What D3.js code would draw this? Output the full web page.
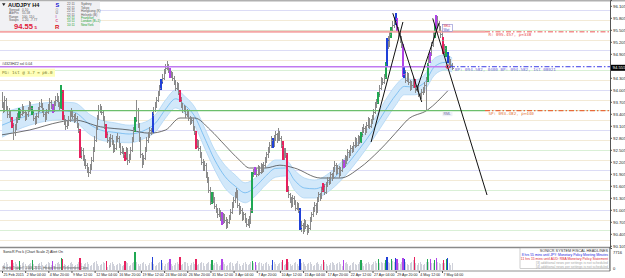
<!DOCTYPE html>
<html><head><meta charset="utf-8">
<script src="https://cdn.jsdelivr.net/npm/d3@7"></script>
<style>body{margin:0;background:#fff;overflow:hidden}svg{display:block;font-family:"Liberation Sans",Arial,sans-serif}</style>
</head><body><svg id="c" width="625" height="278"></svg>
<script>
// ---------- DATA ----------
const highs=[93.95,93.70,93.85,93.80,93.60,93.55,93.50,93.32,93.18,93.15,93.32,93.42,
93.55,93.52,93.65,93.60,93.50,93.45,93.58,93.72,93.70,93.60,93.48,93.35,
93.42,93.58,93.70,93.78,93.68,93.55,93.45,93.52,93.65,93.80,93.75,93.65,
93.72,93.85,93.92,93.85,93.70,94.12,94.00,93.38,93.28,93.25,93.35,93.48,
93.55,93.50,93.40,93.42,93.35,93.18,93.02,92.58,92.55,92.38,92.28,92.18,
92.08,92.15,92.32,92.58,92.85,93.12,93.38,93.62,93.65,93.60,93.48,93.35,
93.15,92.95,92.82,92.90,92.88,92.75,92.65,92.85,92.92,92.85,92.68,92.60,
92.55,92.45,92.58,92.55,92.40,92.58,92.82,93.08,93.32,93.75,93.55,93.18,
92.82,92.42,92.38,92.58,92.82,92.95,93.08,93.05,93.45,93.58,93.70,93.82,
93.98,94.12,94.28,94.40,94.52,94.65,94.72,94.65,94.55,94.48,94.45,94.35,
94.25,94.20,94.18,94.00,93.82,93.68,93.62,93.60,93.52,93.50,93.35,93.32,
93.30,93.10,92.98,92.78,92.75,92.60,92.45,92.28,92.22,92.18,91.95,91.82,
91.58,91.45,91.45,91.32,91.15,91.05,91.05,91.00,90.95,90.92,90.90,90.82,
90.78,90.88,91.02,91.20,91.32,91.45,91.55,91.50,91.18,91.10,91.05,90.95,
90.92,90.80,90.78,90.85,91.05,91.95,92.02,92.08,92.05,92.12,92.10,92.18,
92.15,92.20,92.32,92.45,92.58,92.70,92.85,92.80,92.88,92.98,92.92,93.05,
92.98,92.85,92.72,92.55,92.55,92.42,91.60,91.42,91.32,91.38,91.35,91.25,
91.20,91.18,91.05,90.72,90.68,90.78,90.75,90.65,90.62,90.82,90.95,91.08,
91.20,91.18,91.32,91.45,91.42,91.58,91.68,91.65,91.70,91.82,91.82,91.95,
91.92,92.08,92.22,92.18,92.12,92.10,92.08,92.28,92.25,92.38,92.35,92.52,
92.50,92.62,92.60,92.70,92.82,92.80,92.88,92.85,92.95,93.08,93.15,93.10,
93.20,93.32,93.30,93.28,93.38,93.52,93.70,93.78,93.95,94.12,94.32,94.30,
94.40,94.70,95.30,95.35,95.45,95.58,95.72,95.82,95.92,95.80,95.58,95.48,
95.35,95.15,94.58,94.50,94.45,94.42,94.25,94.22,94.32,94.28,94.15,94.12,
94.08,93.92,94.02,94.08,94.20,94.32,94.68,94.85,94.95,95.20,95.45,95.65,
95.88,95.85,95.72,95.60,95.48,95.32,95.15,95.10,94.95,94.85,94.78,94.68];
const lows=[93.55,93.42,93.45,93.48,93.30,93.30,93.20,93.05,92.75,92.85,93.00,93.18,
93.25,93.30,93.35,93.40,93.22,93.25,93.32,93.45,93.48,93.38,93.22,93.12,
93.15,93.30,93.45,93.55,93.42,93.32,93.20,93.25,93.40,93.50,93.52,93.42,
93.45,93.60,93.70,93.58,93.48,93.52,93.25,93.12,93.00,93.02,93.10,93.20,
93.32,93.28,93.18,93.20,93.05,92.92,92.30,92.28,92.22,92.10,92.02,91.92,
91.82,91.90,92.00,92.20,92.45,92.70,93.00,93.25,93.42,93.38,93.22,93.02,
92.80,92.68,92.55,92.58,92.62,92.42,92.45,92.50,92.70,92.55,92.38,92.40,
92.30,92.22,92.25,92.12,92.18,92.25,92.45,92.70,92.95,93.20,93.05,92.70,
92.30,92.05,92.12,92.25,92.45,92.68,92.80,92.88,92.92,93.35,93.45,93.55,
93.70,93.85,94.00,94.15,94.25,94.40,94.50,94.42,94.30,94.30,94.22,94.12,
93.98,94.00,93.88,93.70,93.55,93.42,93.45,93.30,93.32,93.22,93.12,93.15,
92.98,92.88,92.52,92.55,92.48,92.30,92.12,91.98,91.98,91.80,91.68,91.42,
91.12,91.15,91.18,91.02,90.92,90.80,90.82,90.72,90.62,90.65,90.68,90.52,
90.55,90.65,90.75,90.90,91.05,91.18,91.30,91.05,90.88,90.90,90.72,90.75,
90.68,90.58,90.60,90.55,90.65,90.92,91.82,91.88,91.82,91.85,91.88,91.90,
91.92,91.95,92.05,92.18,92.30,92.42,92.55,92.55,92.58,92.72,92.68,92.72,
92.72,92.55,92.25,92.25,92.30,91.45,91.30,91.18,91.05,91.08,91.12,90.98,
91.00,90.92,90.50,90.45,90.40,90.45,90.52,90.38,90.42,90.50,90.70,90.82,
90.95,90.88,90.92,91.20,91.22,91.28,91.45,91.38,91.40,91.58,91.62,91.65,
91.72,91.78,91.95,91.88,91.90,91.80,91.85,91.95,92.05,92.08,92.15,92.22,
92.30,92.35,92.42,92.45,92.55,92.58,92.60,92.65,92.68,92.82,92.92,92.88,
92.92,93.05,93.02,93.05,93.15,93.25,93.40,93.55,93.65,93.82,94.00,94.12,
94.15,94.28,94.60,95.02,95.08,95.30,95.45,95.55,95.62,95.45,95.30,95.18,
95.05,94.32,94.30,94.18,94.20,94.12,93.98,94.00,94.05,94.05,93.92,93.95,
93.82,93.75,93.78,93.88,93.92,93.50,94.20,94.55,94.68,94.85,95.08,95.30,
95.50,95.55,95.42,95.30,95.18,94.90,94.88,94.82,94.68,94.62,94.55,94.50];
const closes=[93.62,93.50,93.75,93.55,93.38,93.45,93.25,93.12,92.95,93.05,93.25,93.30,
93.45,93.38,93.55,93.45,93.30,93.38,93.50,93.62,93.55,93.45,93.30,93.20,
93.35,93.50,93.60,93.65,93.50,93.40,93.30,93.45,93.55,93.70,93.60,93.50,
93.65,93.75,93.80,93.65,93.55,93.95,93.30,93.20,93.10,93.15,93.25,93.38,
93.45,93.35,93.25,93.30,93.12,93.00,92.35,92.50,92.30,92.20,92.12,92.00,
91.95,92.05,92.25,92.50,92.75,93.05,93.30,93.50,93.55,93.45,93.30,93.10,
92.88,92.75,92.62,92.80,92.70,92.50,92.55,92.75,92.80,92.62,92.45,92.50,
92.38,92.30,92.50,92.25,92.30,92.50,92.75,93.00,93.25,93.50,93.12,92.75,
92.38,92.20,92.30,92.50,92.75,92.88,93.00,92.95,93.40,93.50,93.62,93.75,
93.90,94.05,94.20,94.30,94.45,94.55,94.60,94.50,94.35,94.40,94.30,94.20,
94.05,94.12,93.95,93.75,93.62,93.50,93.55,93.38,93.45,93.30,93.20,93.25,
93.05,92.95,92.58,92.70,92.55,92.38,92.20,92.05,92.12,91.88,91.75,91.50,
91.20,91.40,91.25,91.10,91.00,90.88,90.95,90.80,90.70,90.85,90.75,90.62,
90.70,90.80,90.95,91.12,91.25,91.38,91.45,91.12,90.95,91.00,90.80,90.88,
90.75,90.65,90.70,90.75,90.98,91.92,91.95,92.00,91.90,92.05,91.95,92.10,
92.00,92.12,92.25,92.38,92.50,92.62,92.75,92.62,92.80,92.88,92.75,92.95,
92.80,92.62,92.30,92.50,92.38,91.50,91.38,91.25,91.12,91.30,91.20,91.05,
91.12,91.00,90.55,90.62,90.50,90.70,90.60,90.45,90.55,90.75,90.88,91.00,
91.12,90.95,91.25,91.38,91.30,91.50,91.60,91.45,91.62,91.75,91.70,91.88,
91.80,92.00,92.12,91.95,92.05,91.88,92.00,92.20,92.12,92.30,92.25,92.45,
92.38,92.55,92.50,92.62,92.75,92.62,92.80,92.70,92.88,93.00,93.05,92.95,
93.12,93.25,93.10,93.20,93.30,93.45,93.62,93.70,93.88,94.05,94.25,94.20,
94.32,94.65,95.25,95.12,95.38,95.50,95.62,95.70,95.75,95.50,95.38,95.25,
95.12,94.38,94.45,94.25,94.38,94.20,94.05,94.12,94.25,94.10,94.00,94.05,
93.88,93.80,93.95,94.00,94.12,94.25,94.62,94.75,94.90,95.12,95.38,95.55,
95.75,95.62,95.50,95.38,95.25,94.95,95.05,94.88,94.75,94.70,94.62,94.55];
const volumes=[1500,2100,2800,3200,2500,1400,1700,4200,2900,3300,2600,1600,
3800,2200,2700,3400,2300,1300,1900,2500,3000,4000,2400,1500,
1600,2300,2900,3100,2200,1200,1800,2600,3300,2900,2100,3600,
1700,2400,3000,3500,2500,5200,4800,2600,2000,1500,2200,2800,
3200,2400,1400,1800,2500,3100,5000,2700,1600,2300,2900,3400,
2600,1500,2000,2800,3300,3600,2400,1400,1900,2600,3100,2700,
3800,1300,2100,2700,3200,2500,1500,1800,2600,3000,2300,1400,
2000,3900,3300,2800,1600,2200,2900,3400,7900,3100,2500,1700,
2300,3000,3500,2600,1500,2100,2800,3300,5500,2400,1600,2200,
2900,3400,4400,2700,1700,2300,3000,3300,4700,2500,1500,2100,
2700,3200,2600,5600,1800,2400,3100,3500,2800,1600,2200,2900,
3300,2500,4500,1900,2600,3000,3400,2700,1500,2300,2800,3200,
2600,4000,2000,2700,3100,2400,1400,2100,4600,3300,2600,1700,
2200,2900,3500,2800,1600,2300,3000,3600,2500,1500,2000,2700,
3200,2600,1800,2500,3300,3800,2900,3200,2200,2800,3400,2700,
1600,2300,2900,3200,2400,1500,2100,4100,3300,2600,1700,2400,
3000,3400,4200,1800,2500,4500,3100,2400,1500,2200,2900,3300,
2600,1700,4800,2800,3200,2500,1600,2300,3000,3500,2400,1500,
2100,2700,3200,2600,1700,2300,4100,3400,2500,1600,2200,2900,
3300,2700,1800,2400,3000,3500,2600,1700,4300,2800,3300,2500,
1600,2200,2900,3400,2500,1800,2400,3100,4400,2900,1700,2300,
2800,3200,2600,1800,2500,3200,3600,2700,4600,2900,3500,3000,
2800,4200,5500,3400,3000,4800,3600,3200,5100,4600,2900,2500,
3300,5000,4700,3100,2600,2200,2900,3300,4100,5300,2800,2000,
2700,3200,2600,2000,2600,3100,4800,3400,4500,3000,2700,4300,
4900,3300,2800,2300,2900,4400,3000,4600,5200,2700,2200,3000];
const redBars=[7,42,54,72,85,123,134,194,197,222,285,305];
const greenBars=[12,21,41,92,145,173,248,260,265,269,294,299,307];
const blueBars=[104,110,187,206,266,272,278,308];
const purpleBars=[35,116,152,175,236,273,277,296,300];
// SonicR dragon band (index, price)
const dragonIdx=[0,19,40,50,61,68,78,88,99,106,113,120,127,133,140,147,154,161,168,175,182,189,196,202,209,216,227,237,247,256,265,272,278,285,292,299,306,311];
const dragonHigh=[93.42,93.62,93.70,93.68,93.38,93.25,93.18,93.12,93.20,93.38,93.75,94.00,93.82,93.58,93.05,92.50,92.12,91.88,91.68,91.80,92.05,92.25,92.25,92.00,91.80,91.75,91.95,92.30,92.75,93.20,93.75,94.12,94.30,94.25,94.38,94.80,94.88,94.80];
const dragonMid=[93.12,93.37,93.48,93.44,93.13,93.00,92.94,92.90,93.00,93.17,93.52,93.78,93.60,93.35,92.80,92.25,91.84,91.60,91.43,91.58,91.84,92.04,92.05,91.75,91.55,91.53,91.73,92.08,92.53,92.98,93.50,93.87,94.09,94.07,94.19,94.59,94.69,94.63];
const dragonLow=[92.82,93.12,93.25,93.20,92.88,92.75,92.70,92.68,92.80,92.95,93.30,93.55,93.38,93.12,92.55,92.00,91.55,91.32,91.18,91.35,91.62,91.82,91.85,91.50,91.30,91.30,91.50,91.85,92.30,92.75,93.25,93.62,93.88,93.88,94.00,94.38,94.50,94.45];
// slow moving average (index, price)
const slowIdx=[0,19,40,50,68,88,102,113,123,133,144,154,164,171,182,192,202,220,234,247,261,275,280,294,308];
const slowVal=[92.88,93.00,93.20,93.25,93.08,93.00,92.92,93.00,93.30,93.30,93.00,92.62,92.25,92.05,92.05,92.12,92.05,91.80,91.80,92.05,92.50,93.05,93.25,93.50,93.98];
const resistance=95.457, pivotBP=94.582, support=93.482, lastPrice="94.555";
const trendLines=[[255,92.70,277,95.70],[270,95.92,290,93.70],[286.5,94.00,302,95.68],[297.6,95.79,335.1,91.375]];
const wholeLevels=[91,92,93,94,95,96];
const halfLevels=[90.5,91.5,92.5,93.5,94.5,95.5];
const quarterLevels=[90.25,90.75,91.25,91.75,92.25,92.75,93.25,93.75,94.25,94.75,95.25,95.75];
const priceTicks=[96.105,95.805,95.505,95.205,94.905,94.605,94.305,94.005,93.705,93.405,93.105,92.805,92.505,92.205,91.905,91.605,91.305,91.005,90.705,90.405,90.105];
const dateIdx=[0,16,32,48,64,80,96,112,128,144,160,176,192,208,224,240,256,272,288,304];
const dateLabels=["25 Feb 2015","2 Mar 04:00","4 Mar 20:00","9 Mar 12:00","12 Mar 04:00","16 Mar 20:00","19 Mar 12:00","24 Mar 04:00","26 Mar 20:00","31 Mar 12:00","3 Apr 04:00","7 Apr 20:00","10 Apr 12:00","15 Apr 04:00","17 Apr 20:00","22 Apr 12:00","27 Apr 04:00","29 Apr 20:00","4 May 12:00","7 May 04:00"];
const volMax=7716;
const clocks=[["22:11","Sydney"],["22:11","Tokyo"],["22:11","Hongkong (K)"],["22:11","Helsinki (B)"],["22:11","Frankfurt"],["10:11","London (B+1)"],["10:11","NewYork"]];
const infoRows=[["Spread","0.10"],["AdrPts","55.58"],["Range","100, 110"],["Swaps","1.20, -7.77"]];
const sonicLetters=["S","O","U","I","C"];
const newsLines=["8 hrs 55 mins until JPY: Monetary Policy Meeting Minutes","11 hrs 15 mins until AUD: RBA Monetary Policy Statement","[3] additional news per settings is not scheduled","[4] additional news per settings is not scheduled"];

// ---------- DRAW ----------
const svg=d3.select('#c');
const PR=610, MB=247;
const lp=+lastPrice;
const x=d3.scaleLinear().domain([0,420]).range([2,609.9]);
const y=d3.scaleLinear().domain([90.05,96.25]).range([248,0]);
const yv=d3.scaleLinear().domain([0,volMax]).range([269.5,252]);
svg.append('defs').append('clipPath').attr('id','mc').append('rect').attr('x',0).attr('y',0).attr('width',PR).attr('height',MB);
const g=svg.append('g').attr('clip-path','url(#mc)');
function hl(levels,col){g.selectAll(null).data(levels).enter().append('line').attr('x1',0).attr('x2',PR).attr('y1',d=>Math.round(y(d))+0.5).attr('y2',d=>Math.round(y(d))+0.5).attr('stroke',col).attr('stroke-width',1);}
hl(quarterLevels,'#f3ead6');hl(halfLevels,'#d9f0d6');hl(wholeLevels,'#dcdcf6');
// dragon band
const dr=dragonIdx.map((d,k)=>({i:d,h:dragonHigh[k],m:dragonMid[k],l:dragonLow[k]}));
g.append('path').datum(dr).attr('d',d3.area().curve(d3.curveMonotoneX).x(d=>x(d.i)).y0(d=>y(d.l)).y1(d=>y(d.h))).attr('fill','#d2e8fa');
['h','l'].forEach(k=>g.append('path').datum(dr).attr('d',d3.line().curve(d3.curveMonotoneX).x(d=>x(d.i)).y(d=>y(d[k]))).attr('fill','none').attr('stroke','#a9d2f3').attr('stroke-width',0.7));
g.append('path').datum(dr).attr('d',d3.line().curve(d3.curveMonotoneX).x(d=>x(d.i)).y(d=>y(d.m))).attr('fill','none').attr('stroke','#5fb0ee').attr('stroke-width',0.7);
// slow MA
g.append('path').datum(slowIdx.map((d,k)=>[d,slowVal[k]])).attr('d',d3.line().curve(d3.curveMonotoneX).x(d=>x(d[0])).y(d=>y(d[1]))).attr('fill','none').attr('stroke','#333').attr('stroke-width',0.7);
// bar colors
const colOf=i=>redBars.includes(i)?'#e8205e':greenBars.includes(i)?'#1fa852':blueBars.includes(i)?'#2040d8':purpleBars.includes(i)?'#b044e8':null;
const bars=closes.map((c,i)=>({i,h:highs[i],l:lows[i],c,col:colOf(i)}));
const bg=g.append('g').attr('shape-rendering','crispEdges');
bg.selectAll(null).data(bars).enter().append('line').attr('x1',d=>x(d.i)).attr('x2',d=>x(d.i)).attr('y1',d=>y(d.h)).attr('y2',d=>y(d.l)).attr('stroke',d=>d.col||'#8a8a8a').attr('stroke-width',d=>d.col?2:1);
bg.selectAll(null).data(bars).enter().append('line').attr('x1',d=>x(d.i)).attr('x2',d=>x(d.i)+1.6).attr('y1',d=>y(d.c)).attr('y2',d=>y(d.c)).attr('stroke',d=>d.col||'#8a8a8a').attr('stroke-width',1);
// S/R/BP levels
function level(p,endIdx,solidCol,sw,dashCol,dsw){
  g.append('line').attr('x1',0).attr('x2',x(endIdx)).attr('y1',y(p)).attr('y2',y(p)).attr('stroke',solidCol).attr('stroke-width',sw);
  g.append('line').attr('x1',x(endIdx)).attr('x2',PR).attr('y1',y(p)).attr('y2',y(p)).attr('stroke',dashCol).attr('stroke-width',dsw).attr('stroke-dasharray','5,2,1.5,2');
}
level(resistance,333.7,'#f5a6a6',2,'#f39090',1.6);
level(pivotBP,309.5,'#c07af0',1.4,'#3c3ce6',1);
level(support,333.7,'#6cbf6c',1.3,'#e86a3a',1.3);
const mono='"DejaVu Sans Mono",monospace';
g.append('text').attr('x',x(334)+3).attr('y',y(resistance)+4.6).attr('font-family',mono).attr('font-size',4.2).attr('fill','#e84848').text('R: 095.457, p=338');
g.append('text').attr('x',x(313)).attr('y',y(pivotBP)+3.8).attr('font-family',mono).attr('font-size',4.2).attr('fill','#7068d8').text('BP: 094.582, 0400  BP: 094.582, 1st 08021');
g.append('text').attr('x',x(334)+3).attr('y',y(support)+4.4).attr('font-family',mono).attr('font-size',4.2).attr('fill','#e07032').text('SP: 093.482, p=440');
// trend lines
g.selectAll(null).data(trendLines).enter().append('line').attr('x1',d=>x(d[0])).attr('y1',d=>y(d[1])).attr('x2',d=>x(d[2])).attr('y2',d=>y(d[3])).attr('stroke','#111').attr('stroke-width',1);
// small objects
g.append('rect').attr('x',x(305)-1).attr('y',y(95.64)).attr('width',10).attr('height',7).attr('fill','#fff').attr('stroke','#7070c8').attr('stroke-width',0.5);
g.append('text').attr('x',x(305)).attr('y',y(95.64)+3).attr('font-size',3).attr('fill','#e02040').text('SELL');
g.append('text').attr('x',x(305)).attr('y',y(95.64)+6.3).attr('font-size',3).attr('fill','#4040c0').text('Wait');
g.append('circle').attr('cx',x(308)).attr('cy',y(pivotBP)).attr('r',1.8).attr('fill','none').attr('stroke','#e02020').attr('stroke-width',0.8);
g.append('rect').attr('x',x(305)-1).attr('y',y(support)+1).attr('width',10).attr('height',4.5).attr('fill','#eef0f8');
g.append('text').attr('x',x(305)).attr('y',y(support)+4.6).attr('font-size',3.4).attr('fill','#6a6a98').text('RML');
g.append('text').attr('x',2).attr('y',y(pivotBP)-1.5).attr('font-size',3.6).attr('fill','#333').text('#4323HZ2 ssl 0.04');
g.append('rect').attr('x',0).attr('y',y(pivotBP)+2).attr('width',55).attr('height',8).attr('fill','#ffffb8');
g.append('text').attr('x',2).attr('y',y(pivotBP)+7.6).attr('font-family',mono).attr('font-size',4.2).attr('fill','#7a7a2a').text('PG: 1st @ 3.7 = p6.0');
// info box
svg.append('rect').attr('x',0).attr('y',0).attr('width',625).attr('height',1.5).attr('fill','#b0b0b0');
svg.append('rect').attr('x',0).attr('y',1.5).attr('width',100).attr('height',y(resistance)-2.5).attr('fill','#f1f1f4');
svg.append('path').attr('d','M2,3.2 L5.5,3.2 L3.75,6 Z').attr('fill','#222');
svg.append('text').attr('x',8).attr('y',6.6).attr('font-size',5.6).attr('font-weight','bold').attr('fill','#111').text('AUDJPY  H4');
svg.selectAll(null).data(infoRows).enter().append('text').attr('x',9).attr('y',(d,k)=>10.6+k*3.5).attr('font-size',3.2).attr('fill','#555').text(d=>d[0]);
svg.selectAll(null).data(infoRows).enter().append('text').attr('x',22).attr('y',(d,k)=>10.6+k*3.5).attr('font-size',3.2).attr('fill','#555').text(d=>d[1]);
svg.append('text').attr('x',14).attr('y',29.2).attr('font-size',7.6).attr('font-weight','bold').attr('fill','#e0203a').text(lastPrice.slice(0,5));
svg.append('text').attr('x',34.5).attr('y',29.2).attr('font-size',4.4).attr('font-weight','bold').attr('fill','#e0203a').text(lastPrice.slice(5));
const letCol=['#1010d0','#b0b0b0','#909090','#c050c0','#e04080'];
svg.selectAll(null).data(sonicLetters).enter().append('text').attr('x',55.5).attr('y',(d,k)=>k===0?6.8:10.8+(k-1)*3.6).attr('font-size',d=>d==='S'?5.6:3.6).attr('font-weight','bold').attr('fill',(d,k)=>letCol[k]).text(d=>d);
svg.append('text').attr('x',55).attr('y',29.3).attr('font-size',6).attr('font-weight','bold').attr('fill','#d81020').text('R');
svg.selectAll(null).data(clocks).enter().append('text').attr('x',67).attr('y',(d,k)=>5.2+k*3.45).attr('font-size',3.2).attr('fill',(d,k)=>k>=4?'#20a030':'#555').text(d=>d[0]);
svg.selectAll(null).data(clocks).enter().append('text').attr('x',81).attr('y',(d,k)=>5.2+k*3.45).attr('font-size',3.2).attr('fill',(d,k)=>k>=4?'#20a030':'#555').text(d=>d[1]);
// oscillator panel
svg.append('line').attr('x1',0).attr('x2',PR).attr('y1',MB+0.5).attr('y2',MB+0.5).attr('stroke','#8a8a8a').attr('stroke-width',1.4);
const og=svg.append('g').attr('shape-rendering','crispEdges');
og.selectAll(null).data(bars).enter().append('line').attr('x1',d=>x(d.i)).attr('x2',d=>x(d.i)).attr('y1',yv(0)).attr('y2',d=>yv(volumes[d.i])).attr('stroke',d=>d.col||'#cfd1da').attr('stroke-width',d=>d.col?1.4:1);
svg.append('text').attr('x',3).attr('y',253.2).attr('font-size',3.6).attr('fill','#222').text('SonicR Pro k (Chart Scale 2)    Alert On');
svg.append('text').attr('x',3).attr('y',269).attr('font-size',3.3).attr('fill','#555').text('Home Trader\u00a9 2006-2015, HedgeStreet Refinement Corp.');
svg.append('rect').attr('x',520).attr('y',MB+1).attr('width',89.5).attr('height',20.5).attr('fill','#fff').attr('fill-opacity',0.85).attr('stroke','#a0a0a0').attr('stroke-width',0.5);
svg.append('text').attr('x',608).attr('y',251.6).attr('text-anchor','end').attr('font-size',3.8).attr('fill','#333').text('SONICR SYSTEM FISCAL HEADLINES');
const newsCol=['#2222dd','#e02030','#a8a8a8','#a8a8a8'];
svg.selectAll(null).data(newsLines).enter().append('text').attr('x',608).attr('y',(d,k)=>255.8+k*4).attr('text-anchor','end').attr('font-size',3.4).attr('fill',(d,k)=>newsCol[k]).text(d=>d);
svg.append('line').attr('x1',0).attr('x2',PR).attr('y1',271).attr('y2',271).attr('stroke','#777').attr('stroke-width',0.8);
// right axis
const ax=svg.append('g').attr('transform',`translate(${PR},0)`).call(d3.axisRight(y).tickValues(priceTicks).tickSize(2).tickFormat(d3.format('.3f')));
ax.select('.domain').attr('stroke','#555');
ax.selectAll('text').attr('font-size',4.3).attr('fill','#222').attr('x',3);
ax.selectAll('.tick').filter(d=>Math.abs(y(d)-y(lp))<5).select('text').remove();
ax.selectAll('line').attr('stroke','#555');
svg.append('line').attr('x1',PR).attr('x2',PR).attr('y1',MB).attr('y2',271).attr('stroke','#555');
svg.append('rect').attr('x',PR+1).attr('y',y(lp)-3).attr('width',15).attr('height',6).attr('fill','#000');
svg.append('text').attr('x',PR+2.5).attr('y',y(lp)+1.6).attr('font-size',4.3).attr('fill','#fff').text(lastPrice);
svg.append('text').attr('x',PR+3).attr('y',254).attr('font-size',4.1).attr('fill','#222').text(volMax);
svg.append('text').attr('x',PR+3).attr('y',270).attr('font-size',4.1).attr('fill','#222').text('0');
// bottom axis
const bx=svg.append('g').attr('transform','translate(0,271)').call(d3.axisBottom(x).tickValues(dateIdx).tickSize(2).tickFormat((d,k)=>dateLabels[k]));
bx.select('.domain').remove();
bx.selectAll('line').attr('stroke','#555');
bx.selectAll('text').attr('font-size',3.6).attr('fill','#222').attr('text-anchor','start').attr('dx',1).attr('y',2.2);
</script></body></html>
